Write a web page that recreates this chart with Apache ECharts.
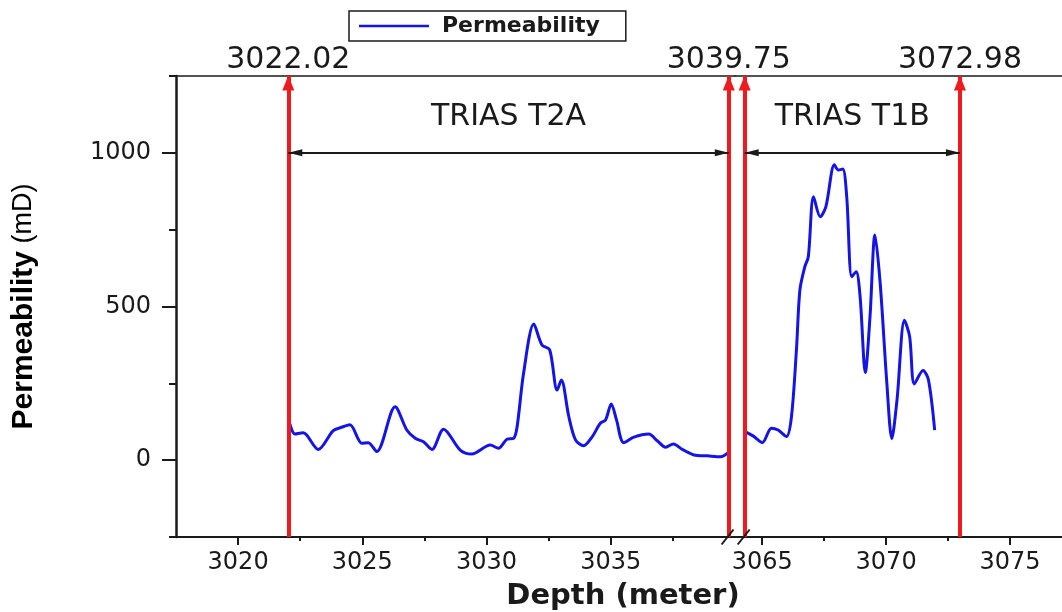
<!DOCTYPE html>
<html><head><meta charset="utf-8">
<script src="https://cdn.jsdelivr.net/npm/echarts@6/dist/echarts.min.js"></script>
<style>html,body{margin:0;padding:0;background:#fff}#c{width:1062px;height:612px}</style>
</head><body><div id="c"></div>
<script>
// ---- data ----
const depthT2A = [3022.02,3022.29,3022.62,3022.76,3023.23,3023.83,3024.17,3024.50,3024.98,3025.24,3025.58,3026.32,3026.79,3027.13,3027.46,3027.80,3028.27,3028.94,3029.41,3030.15,3030.48,3030.82,3031.09,3031.23,3031.49,3031.90,3032.23,3032.54,3032.84,3033.01,3033.31,3033.58,3033.91,3034.25,3034.58,3034.79,3035.02,3035.23,3035.52,3035.93,3036.53,3036.87,3037.21,3037.52,3037.88,3038.35,3038.89,3039.42,3039.76];
const permT2A  = [136,85,89,82,35,96,107,115,55,57,28,174,98,71,60,35,101,33,20,49,39,68,71,109,283,443,375,359,228,261,142,66,47,76,120,131,183,131,57,75,85,63,42,53,35,17,14,11,26];
const depthT1B = [3064.29,3064.63,3065.00,3065.37,3065.64,3065.98,3066.18,3066.38,3066.52,3066.72,3066.86,3067.07,3067.34,3067.57,3067.91,3068.07,3068.25,3068.41,3068.61,3068.79,3068.95,3069.16,3069.35,3069.55,3069.76,3070.03,3070.23,3070.44,3070.74,3070.95,3071.14,3071.49,3071.71,3071.96];
const permT1B  = [93,79,57,104,98,77,142,359,554,630,662,857,792,825,961,944,947,857,597,613,532,285,467,733,576,250,70,196,455,402,248,292,261,98];
const boundariesT2A = [3022.02, 3039.75];
const boundaryLabelsT2A = ['3022.02', '3039.75'];
const boundariesT1B = [3064.29, 3072.98];
const boundaryLabelsT1B = ['', '3072.98'];
const zoneNames = ['TRIAS T2A', 'TRIAS T1B'];
const zoneLevel = 1000;
const xTicksA = [3020, 3025, 3030, 3035];
const xMinorA = [3022.5, 3027.5, 3032.5, 3037.5];
const xTicksB = [3065, 3070, 3075];
const xMinorB = [3067.5, 3072.5];
const yTicks = [0, 500, 1000];
const yMinor = [-250, 250, 750, 1250];
const xRangeA = [3017.5, 3040];
const xRangeB = [3063.9, 3077.1];
const yRange = [-250, 1250];
const breakAt = [3039.7, 3064.25];

// ---- styles ----
const RED = '#ef1a1e', BLUE = '#1414e6', INK = '#1a1a1a';
const NUM_FONT = 'DejaVu Sans';
const plain = v => String(v);

function redLine(x, label) {
  return [
    {coord: [x, yRange[0]], name: label, symbol: 'none',
     lineStyle: {color: RED, width: 4, type: 'solid'},
     label: {show: !!label, position: 'end', distance: 1, formatter: '{b}',
             fontFamily: NUM_FONT, fontSize: 30, color: INK}},
    {coord: [x, yRange[1]], symbol: 'triangle', symbolSize: [12, 15], symbolOffset: [0, 7]}
  ];
}
function zoneArrow(x0, x1, name) {
  return [
    {coord: [x0, zoneLevel], name: name, symbol: 'triangle', symbolSize: [7, 14], symbolOffset: [0, 7],
     lineStyle: {color: INK, width: 2, type: 'solid'},
     label: {show: true, position: 'insideMiddleTop', distance: 21, formatter: '{b}',
             fontFamily: NUM_FONT, fontSize: 30, color: INK}},
    {coord: [x1, zoneLevel], symbol: 'triangle', symbolSize: [7, 14], symbolOffset: [0, 7]}
  ];
}

function mainX(grid, range, ticks) {
  return {type: 'value', gridIndex: grid, position: 'bottom', min: range[0], max: range[1],
    axisLine: {show: true, onZero: false, lineStyle: {color: INK, width: 2}},
    axisTick: {show: true, customValues: ticks, length: 8, lineStyle: {color: INK, width: 2}},
    axisLabel: {show: true, customValues: ticks, formatter: plain, margin: 14, fontFamily: NUM_FONT, fontSize: 24, color: INK},
    splitLine: {show: false}};
}
function minorX(grid, range, ticks) {
  return {type: 'value', gridIndex: grid, position: 'bottom', min: range[0], max: range[1],
    axisLine: {show: false, onZero: false},
    axisTick: {show: true, customValues: ticks, length: 4, lineStyle: {color: INK, width: 2}},
    axisLabel: {show: false}, splitLine: {show: false}};
}
function topX(grid, range) {
  return {type: 'value', gridIndex: grid, position: 'top', min: range[0], max: range[1],
    axisLine: {show: true, onZero: false, lineStyle: {color: INK, width: 1.5}},
    axisTick: {show: false}, axisLabel: {show: false}, splitLine: {show: false}};
}

const chart = echarts.init(document.getElementById('c'), null, {renderer: 'canvas'});
chart.setOption({
  animation: false,
  backgroundColor: '#fff',
  title: {text: 'Depth (meter)', left: 623, top: 582, textAlign: 'center', padding: 0,
    textStyle: {fontFamily: NUM_FONT, fontWeight: 'bold', fontSize: 29, color: INK}},
  legend: {data: ['Permeability'], left: 349, top: 11, orient: 'horizontal', icon: 'rect',
    borderColor: INK, borderWidth: 1.5, borderRadius: 0, padding: [4, 26, 4, 10],
    itemWidth: 70, itemHeight: 2.5,
    textStyle: {fontFamily: NUM_FONT, fontWeight: 'bold', fontSize: 22, color: INK, padding: [0, 0, 0, 8]}},
  grid: [
    {left: 176, top: 76, width: 559, height: 461, containLabel: false},
    {left: 735, top: 76, width: 327, height: 461, containLabel: false}
  ],
  xAxis: [
    mainX(0, xRangeA, xTicksA), minorX(0, xRangeA, xMinorA), topX(0, xRangeA),
    mainX(1, xRangeB, xTicksB), minorX(1, xRangeB, xMinorB), topX(1, xRangeB)
  ],
  yAxis: [
    {type: 'value', gridIndex: 0, position: 'left', min: yRange[0], max: yRange[1],
      name: '{b|Permeability}{n| (mD)}', nameLocation: 'middle', nameGap: 137, nameRotate: 90,
      nameTextStyle: {rich: {
        b: {fontFamily: 'Liberation Sans', fontWeight: 'bold', fontSize: 30, color: '#000'},
        n: {fontFamily: 'Liberation Sans', fontWeight: 'normal', fontSize: 27, color: '#000'}}},
      axisLine: {show: true, onZero: false, lineStyle: {color: INK, width: 2.5}},
      axisTick: {show: true, customValues: yTicks, length: 14, lineStyle: {color: INK, width: 2}},
      axisLabel: {show: true, customValues: yTicks, formatter: plain, margin: 25, fontFamily: NUM_FONT, fontSize: 24, color: INK},
      splitLine: {show: false}},
    {type: 'value', gridIndex: 0, position: 'left', min: yRange[0], max: yRange[1],
      axisLine: {show: false, onZero: false},
      axisTick: {show: true, customValues: yMinor, length: 7, lineStyle: {color: INK, width: 2}},
      axisLabel: {show: false}, splitLine: {show: false}},
    {type: 'value', gridIndex: 1, min: yRange[0], max: yRange[1], show: false, splitLine: {show: false}}
  ],
  series: [
    {type: 'line', name: 'Permeability', xAxisIndex: 0, yAxisIndex: 0,
      data: depthT2A.map((d, i) => [d, permT2A[i]]),
      smooth: 0.3, symbol: 'none', lineStyle: {color: BLUE, width: 3}, itemStyle: {color: BLUE},
      markLine: {silent: true, animation: false, precision: 2,
        data: [redLine(boundariesT2A[0], boundaryLabelsT2A[0]), redLine(boundariesT2A[1], boundaryLabelsT2A[1]),
               zoneArrow(boundariesT2A[0], boundariesT2A[1], zoneNames[0])]}},
    {type: 'line', name: 'Permeability', xAxisIndex: 3, yAxisIndex: 2,
      data: depthT1B.map((d, i) => [d, permT1B[i]]),
      smooth: 0.3, symbol: 'none', lineStyle: {color: BLUE, width: 3}, itemStyle: {color: BLUE},
      markLine: {silent: true, animation: false, precision: 2,
        data: [redLine(boundariesT1B[0], boundaryLabelsT1B[0]), redLine(boundariesT1B[1], boundaryLabelsT1B[1]),
               zoneArrow(boundariesT1B[0], boundariesT1B[1], zoneNames[1])]}}
  ]
});

// axis-break marks on the bottom axis
const yBottomPx = chart.convertToPixel({yAxisIndex: 0}, yRange[0]);
const breakPx = [chart.convertToPixel({xAxisIndex: 0}, breakAt[0]), chart.convertToPixel({xAxisIndex: 3}, breakAt[1])];
chart.setOption({graphic: breakPx.map(x => ({type: 'line', silent: true, z: 100,
  shape: {x1: x - 6, y1: yBottomPx + 7.5, x2: x + 6, y2: yBottomPx - 7.5},
  style: {stroke: INK, lineWidth: 2}}))});
</script></body></html>
